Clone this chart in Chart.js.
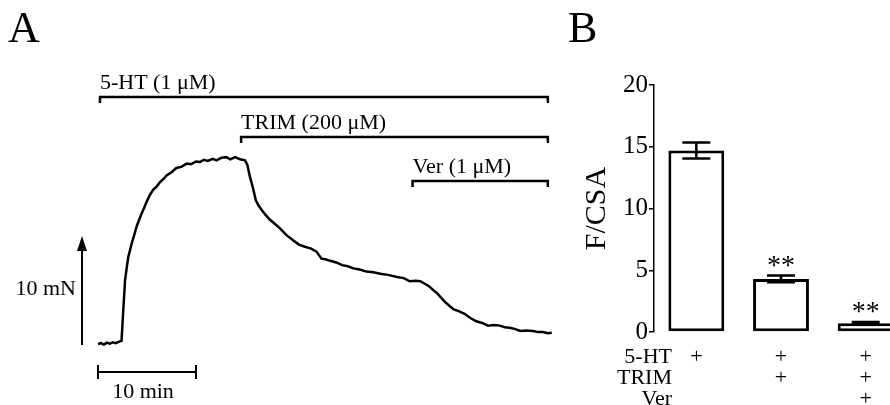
<!DOCTYPE html>
<html lang="en">
<head>
<meta charset="UTF-8">
<title>5-HT / TRIM / Ver contraction</title>
<style>
    html, body { margin: 0; padding: 0; overflow: hidden; background: #fff; }
    body { width: 890px; height: 405px; position: relative; }
    #traceChart { position: absolute; left: 0; top: 0; }
    #barChart { position: absolute; left: 560px; top: 0; }
</style>
</head>
<body>
    <canvas id="traceChart" width="560" height="405"></canvas>
    <canvas id="barChart" width="360" height="405"></canvas>

<script src="https://cdn.jsdelivr.net/npm/chart.js"></script>
<script>
    // ---- panel A: isometric tension trace (min, mN above baseline) ----
    const traceTime = [0, 0.3, 0.6, 0.9, 1.2, 1.5, 1.8, 2.1, 2.4,
        2.58, 2.76, 2.95, 3.1, 3.3, 3.45, 3.7, 3.95, 4.2, 4.46, 4.7, 4.97, 5.3, 5.64, 6.0, 6.33, 6.7, 7.0,
        7.5, 8.0, 8.5, 9.05, 9.5, 10.0, 10.4, 10.8, 11.2, 11.7, 12.1, 12.6, 13.1, 13.5, 14.0, 14.5, 15.0,
        15.23, 15.5, 15.85, 16.1, 16.4, 16.7, 17.1, 17.55, 18.0, 18.57, 19.2, 19.9, 20.5, 21.1, 21.7, 22.3,
        22.8, 23.2, 23.7, 24.3, 24.9, 25.5, 26.05, 26.7, 27.4, 28.1, 28.8, 29.6, 30.5, 31.2, 31.8, 32.4,
        32.9, 33.3, 33.7, 34.2, 34.6, 35.0, 35.4, 35.9, 36.3, 36.8, 37.4, 38.0, 38.6, 39.2, 39.8, 40.4,
        41.0, 41.5, 42.0, 42.5, 43.1, 43.7, 44.4, 44.9, 45.4, 45.9, 46.3];
    const traceForce = [0, 0.08, -0.05, 0.12, 0.02, 0.15, 0.08, 0.2, 0.3,
        3.15, 5.9, 7.2, 8.1, 8.8, 9.35, 10.1, 10.9, 11.5, 12.1, 12.6, 13.2, 13.8, 14.3, 14.6, 15.0, 15.3, 15.6,
        15.9, 16.3, 16.4, 16.7, 16.65, 16.9, 16.85, 17.05, 16.95, 17.15, 17.0, 17.25, 17.3, 17.1, 17.3, 17.1, 17.0,
        16.6, 15.5, 14.3, 13.3, 12.8, 12.4, 11.95, 11.5, 11.15, 10.7, 10.1, 9.6, 9.2, 9.0, 8.85, 8.55,
        7.9, 7.85, 7.7, 7.55, 7.3, 7.2, 7.0, 6.9, 6.7, 6.65, 6.5, 6.4, 6.2, 6.1, 5.8, 5.85,
        5.8, 5.6, 5.4, 5.0, 4.7, 4.3, 3.9, 3.5, 3.2, 3.05, 2.8, 2.4, 2.1, 1.95, 1.7, 1.75,
        1.7, 1.55, 1.5, 1.4, 1.2, 1.25, 1.2, 1.1, 1.1, 1.0, 1.05];

    const drugNames = ['5-HT (1 μM)', 'TRIM (200 μM)', 'Ver (1 μM)'];
    const drugStart = [0.2, 14.6, 32.1];   // min
    const drugEnd = 45.9;                  // min
    const scaleBarTime = 10;               // min
    const scaleBarForce = 10;              // mN

    // ---- panel B: F/CSA bar graph ----
    const treatments = ['5-HT', 'TRIM', 'Ver'];
    const groupHas = [[1, 0, 0], [1, 1, 0], [1, 1, 1]];
    const means = [14.7, 4.3, 0.7];
    const sems = [0.65, 0.27, 0.1];
    const signif = ['', '**', '**'];
    const yTicks = [0, 5, 10, 15, 20];

    const serif = '"Liberation Serif", "Times New Roman", serif';

    const traceExtras = {
        id: 'traceExtras',
        afterDatasetsDraw(chart) {
            const ctx = chart.ctx;
            const sx = chart.scales.x, sy = chart.scales.y;
            const bracketY = [97, 137, 181];
            ctx.save();
            ctx.fillStyle = '#000';
            ctx.strokeStyle = '#000';
            ctx.font = '44px ' + serif;
            ctx.fillText('A', 8, 42);

            ctx.font = '22px ' + serif;
            ctx.lineWidth = 2.5;
            for (let i = 0; i < drugNames.length; i++) {
                let x0 = sx.getPixelForValue(drugStart[i]);
                let x1 = sx.getPixelForValue(drugEnd);
                let y = bracketY[i];
                ctx.beginPath();
                ctx.moveTo(x0, y + 6);
                ctx.lineTo(x0, y);
                ctx.lineTo(x1, y);
                ctx.lineTo(x1, y + 6);
                ctx.stroke();
                ctx.textAlign = 'left';
                ctx.fillText(drugNames[i], x0, y - 8);
            }

            // vertical force calibration arrow
            let ax = 82;
            let yb = sy.getPixelForValue(0) + 1;
            let yt = sy.getPixelForValue(scaleBarForce);
            ctx.lineWidth = 2;
            ctx.beginPath();
            ctx.moveTo(ax, yb);
            ctx.lineTo(ax, yt + 12);
            ctx.stroke();
            ctx.beginPath();
            ctx.moveTo(ax, yt);
            ctx.lineTo(ax - 5, yt + 15);
            ctx.lineTo(ax + 5, yt + 15);
            ctx.closePath();
            ctx.fill();
            ctx.textAlign = 'right';
            ctx.fillText(scaleBarForce + ' mN', 76, 295);

            // horizontal time calibration bar
            let hx0 = sx.getPixelForValue(0);
            let hx1 = sx.getPixelForValue(scaleBarTime);
            let hy = 372;
            ctx.beginPath();
            ctx.moveTo(hx0, hy);
            ctx.lineTo(hx1, hy);
            ctx.moveTo(hx0, hy - 7);
            ctx.lineTo(hx0, hy + 7);
            ctx.moveTo(hx1, hy - 7);
            ctx.lineTo(hx1, hy + 7);
            ctx.stroke();
            ctx.textAlign = 'center';
            ctx.fillText(scaleBarTime + ' min', 143, 398);
            ctx.restore();
        }
    };

    new Chart(document.getElementById('traceChart'), {
        type: 'scatter',
        data: {
            datasets: [{
                data: traceTime.map((t, i) => ({ x: t, y: traceForce[i] })),
                showLine: true,
                borderColor: '#000',
                borderWidth: 2.5,
                pointRadius: 0,
                tension: 0
            }]
        },
        options: {
            responsive: false,
            animation: false,
            layout: { padding: 0 },
            plugins: { legend: { display: false }, tooltip: { enabled: false } },
            scales: {
                x: { type: 'linear', display: false, min: -10, max: 47.14 },
                y: { type: 'linear', display: false, min: -5.65, max: 31.85 }
            }
        },
        plugins: [traceExtras]
    });

    const lineH = 22 * 0.95;
    const tickPad = 15;

    const barExtras = {
        id: 'barExtras',
        afterDatasetsDraw(chart) {
            const ctx = chart.ctx;
            const sy = chart.scales.y, sx = chart.scales.x;
            const bars = chart.getDatasetMeta(0).data;
            ctx.save();
            ctx.fillStyle = '#000';
            ctx.strokeStyle = '#000';
            ctx.font = '44px ' + serif;
            ctx.textAlign = 'left';
            ctx.fillText('B', 8, 42);

            ctx.lineWidth = 2.5;
            ctx.font = '28px ' + serif;
            ctx.textAlign = 'center';
            for (let i = 0; i < means.length; i++) {
                let cx = bars[i].x;
                let yHi = sy.getPixelForValue(means[i] + sems[i]);
                let yLo = sy.getPixelForValue(means[i] - sems[i]);
                ctx.beginPath();
                ctx.moveTo(cx, yLo);
                ctx.lineTo(cx, yHi);
                ctx.moveTo(cx - 14, yHi);
                ctx.lineTo(cx + 14, yHi);
                ctx.moveTo(cx - 14, yLo);
                ctx.lineTo(cx + 14, yLo);
                ctx.stroke();
                if (signif[i]) ctx.fillText(signif[i], cx, yHi - 2);
            }

            ctx.font = '22px ' + serif;
            ctx.textAlign = 'right';
            ctx.textBaseline = 'middle';
            for (let r = 0; r < treatments.length; r++) {
                let y = sx.top + tickPad + lineH / 2 + r * lineH;
                ctx.fillText(treatments[r], 112, y);
            }
            ctx.restore();
        }
    };

    new Chart(document.getElementById('barChart'), {
        type: 'bar',
        data: {
            labels: groupHas.map(g => treatments.map((t, r) => g[r] ? '+' : '')),
            datasets: [{
                data: means,
                backgroundColor: '#fff',
                borderColor: '#000',
                borderWidth: 3,
                borderSkipped: false,
                barPercentage: 0.66,
                categoryPercentage: 1
            }]
        },
        options: {
            responsive: false,
            animation: false,
            layout: { padding: { top: 85, right: 12, left: 0, bottom: 0 } },
            plugins: { legend: { display: false }, tooltip: { enabled: false } },
            scales: {
                x: {
                    grid: { display: false, drawTicks: false },
                    border: { display: false },
                    ticks: {
                        color: '#000', padding: tickPad, maxRotation: 0, autoSkip: false,
                        font: { family: serif, size: 22, lineHeight: 0.95 }
                    },
                    afterFit: s => { s.height = 73; }
                },
                y: {
                    min: 0,
                    max: 20,
                    afterBuildTicks: s => { s.ticks = yTicks.map(v => ({ value: v })); },
                    grid: { display: true, drawOnChartArea: false, drawTicks: true, tickLength: 5, color: '#000', lineWidth: 1.5 },
                    border: { display: true, color: '#000', width: 1.5 },
                    ticks: { color: '#000', padding: 1, font: { family: serif, size: 25 } },
                    title: {
                        display: true, text: 'F/CSA', color: '#000',
                        font: { family: serif, size: 30 },
                        padding: { top: 19, bottom: 0 }
                    },
                    afterFit: s => { s.width = 94; }
                }
            }
        },
        plugins: [barExtras]
    });
</script>
</body>
</html>
